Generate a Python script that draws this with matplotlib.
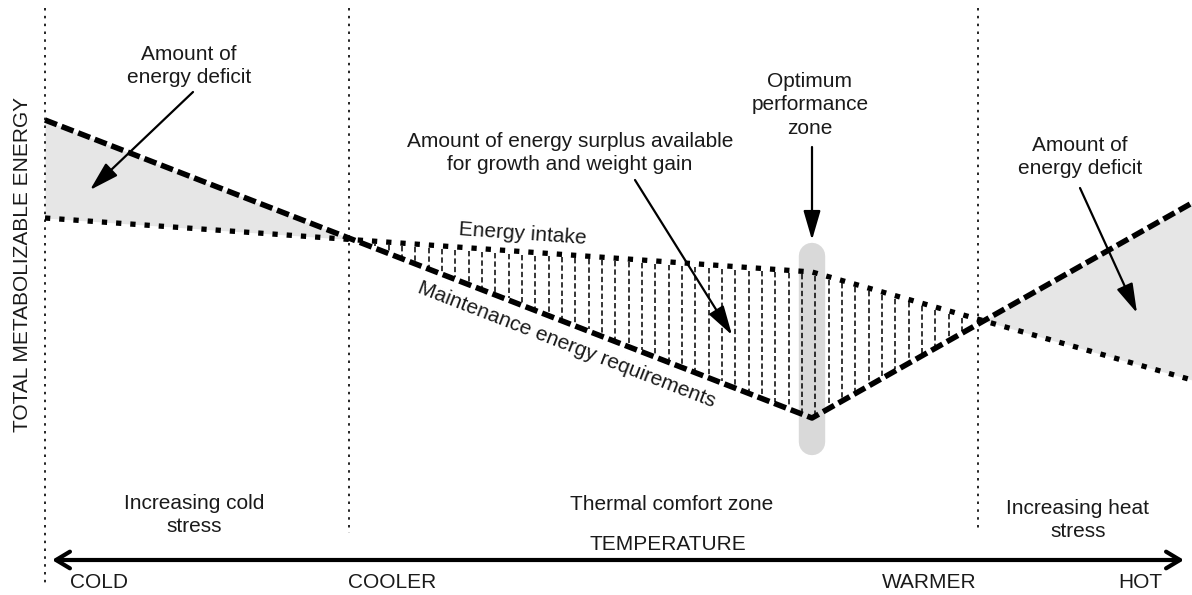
import numpy as np
import matplotlib
matplotlib.use('Agg')
import matplotlib.pyplot as plt

plt.rcParams['font.family'] = ['Liberation Sans', 'DejaVu Sans']
plt.rcParams['font.size'] = 15

# ── schematic data (canvas units: x = temperature, y = energy, top = high) ──
temp_x = [45, 812, 1192]          # cold edge, optimum point, hot edge
maint_y = [120, 418, 203]          # maintenance energy requirements
intake_y = [218, 272, 380]         # energy intake
zone_x = [45, 349, 978]            # cold | comfort | heat boundaries
zone_bottom = [583, 533, 532]
opt_x = 812
scale_labels = ['COLD', 'COOLER', 'WARMER', 'HOT']

TXT = '#1a1a1a'
GREY_FILL = '#e6e6e6'
GREY_BAR = '#d9d9d9'

fig = plt.figure(figsize=(11.92, 5.95), dpi=100)
ax = fig.add_axes([0, 0, 1, 1])
ax.set_xlim(0, 1192)
ax.set_ylim(595, 0)
ax.axis('off')

xs = np.linspace(temp_x[0], temp_x[-1], 1200)
m = np.interp(xs, temp_x, maint_y)
e = np.interp(xs, temp_x, intake_y)

# deficit zones (maintenance above intake)
ax.fill_between(xs, m, e, where=(m < e) & (xs < opt_x), color=GREY_FILL, lw=0, zorder=1)
ax.fill_between(xs, m, e, where=(m < e) & (xs > opt_x), color=GREY_FILL, lw=0, zorder=1)

# optimum performance zone bar
ax.plot([opt_x, opt_x], [256, 442], color=GREY_BAR, lw=19, solid_capstyle='round', zorder=1)

# surplus hatching
for hx in np.arange(362, 970, 13.33):
    y0 = np.interp(hx, temp_x, intake_y)
    y1 = np.interp(hx, temp_x, maint_y)
    if y1 - y0 > 4:
        ax.plot([hx, hx], [y0 + 3, y1 - 2], color='black', lw=1.1,
                linestyle=(0, (3.5, 2)), zorder=2)

# zone boundaries
for zx, zb in zip(zone_x, zone_bottom):
    ax.plot([zx, zx], [8, zb], color='black', lw=1.2, linestyle=(0, (1.5, 3.2)), zorder=2)

# main lines
ax.plot(temp_x, intake_y, color='black', lw=3.8, linestyle=(0, (1, 1.7)), zorder=3)
ax.plot(temp_x, maint_y, color='black', lw=4, linestyle=(0, (2.3, 0.9)), zorder=4)

# temperature axis
ax.annotate('', xy=(1184, 560), xytext=(52, 560),
            arrowprops=dict(arrowstyle='<->,head_length=0.5,head_width=0.3', lw=3,
                            color='black', shrinkA=0, shrinkB=0, mutation_scale=20))

# annotation arrows
arrows = [((193, 92), (90, 190)), ((635, 180), (732, 335)),
          ((812, 147), (812, 240)), ((1080, 188), (1137, 313))]
for start, tip in arrows:
    ax.annotate('', xy=tip, xytext=start,
                arrowprops=dict(arrowstyle='-|>,head_length=1.2,head_width=0.35', lw=1.6,
                                color='black', shrinkA=0, shrinkB=0, mutation_scale=15),
                zorder=5)

# texts
kw = dict(ha='center', va='center', color=TXT, linespacing=1.3)
ax.text(189, 66, 'Amount of\nenergy deficit', **kw)
ax.text(1080, 157, 'Amount of\nenergy deficit', **kw)
ax.text(570, 153, 'Amount of energy surplus available\nfor growth and weight gain', **kw)
ax.text(810, 105, 'Optimum\nperformance\nzone', **kw)
ax.text(523, 234, 'Energy intake', rotation=-4, **kw)
ang = -np.degrees(np.arctan((maint_y[1] - maint_y[0]) / (temp_x[1] - temp_x[0])))
ax.text(567, 345, 'Maintenance energy requirements', rotation=ang, rotation_mode='anchor', **kw)
ax.text(23, 265, 'TOTAL METABOLIZABLE ENERGY', rotation=90, **kw)

ax.text(194, 515, 'Increasing cold\nstress', **kw)
ax.text(672, 504, 'Thermal comfort zone', **kw)
ax.text(1078, 520, 'Increasing heat\nstress', **kw)
ax.text(668, 545, 'TEMPERATURE', **kw)

ax.text(70, 582, scale_labels[0], ha='left', va='center', color=TXT)
ax.text(348, 582, scale_labels[1], ha='left', va='center', color=TXT)
ax.text(977, 582, scale_labels[2], ha='right', va='center', color=TXT)
ax.text(1162, 582, scale_labels[3], ha='right', va='center', color=TXT)

fig.savefig('out.png', dpi=100)
